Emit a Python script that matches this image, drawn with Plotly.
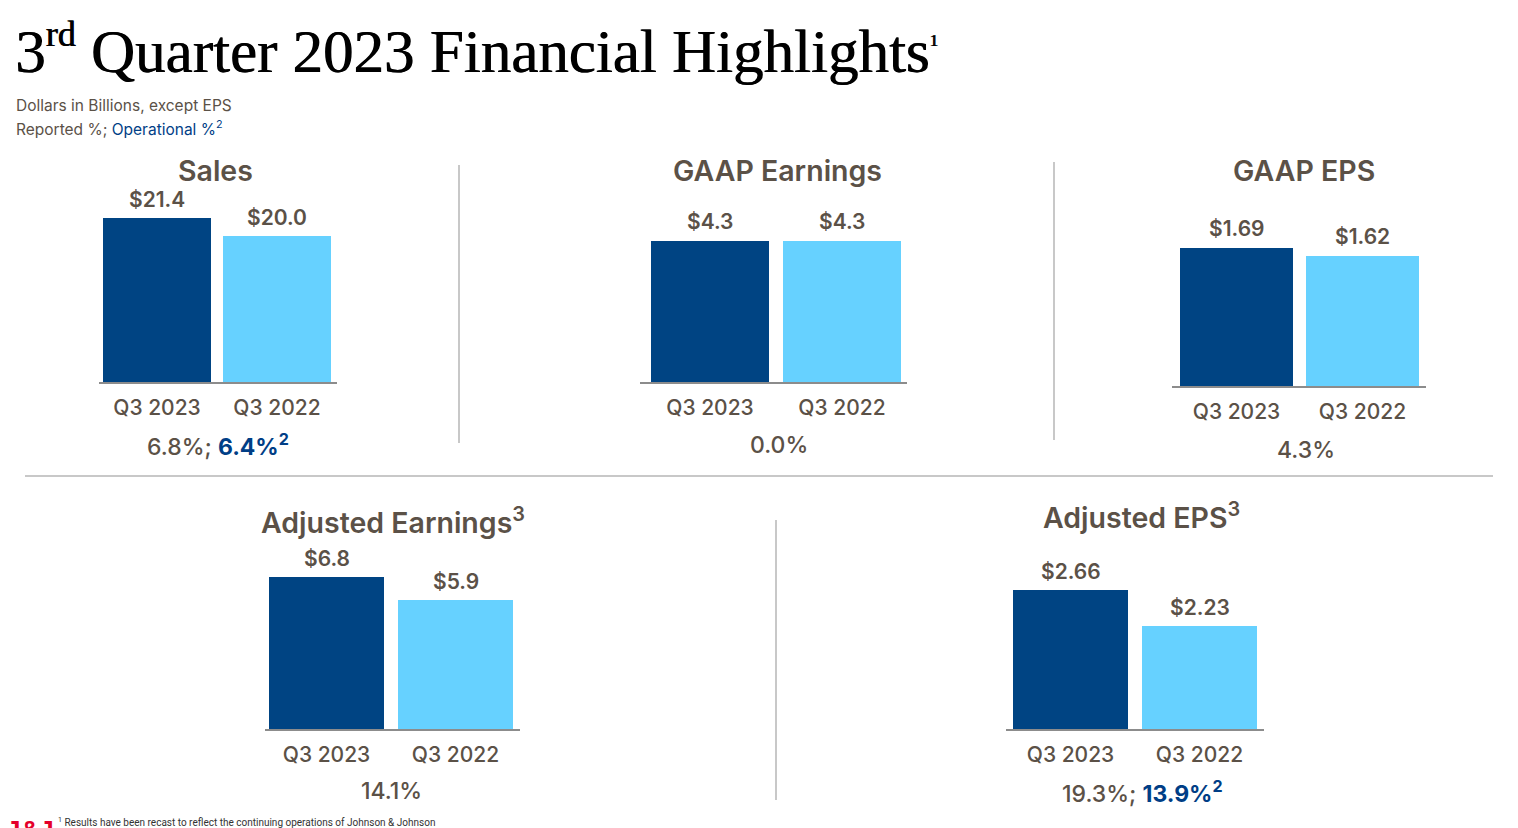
import plotly.graph_objects as go

W, H = 1518, 828

# ---------------- data ----------------
periods = ["Q3 2023", "Q3 2022"]
panel_titles = ["Sales", "GAAP Earnings", "GAAP EPS",
                "Adjusted Earnings<sup>3</sup>", "Adjusted EPS<sup>3</sup>"]
sales = [21.4, 20.0]
gaap_earnings = [4.3, 4.3]
gaap_eps = [1.69, 1.62]
adj_earnings = [6.8, 5.9]
adj_eps = [2.66, 2.23]
reported_pct = ["6.8%", "0.0%", "4.3%", "14.1%", "19.3%"]
operational_pct = ["6.4%", None, None, None, "13.9%"]
value_fmt = ["${:.1f}", "${:.1f}", "${:.2f}", "${:.1f}", "${:.2f}"]
series = [sales, gaap_earnings, gaap_eps, adj_earnings, adj_eps]

# ---------------- style / layout ----------------
DARK = "#004483"
LIGHT = "#66D1FF"
TXT = "#5B5147"
BLUE = "#003E86"
FONT = "Inter"

geo = [
    dict(x0=99, x1=337, c0=157, c1=277, bw=108, base=382, r0=8.64, ppu=12.85, title=(215, 170), pct=(218, 445)),
    dict(x0=640, x1=907, c0=710, c1=842, bw=118, base=382, r0=0.0, ppu=32.79, title=(777, 170), pct=(779, 445)),
    dict(x0=1172, x1=1426, c0=1236.5, c1=1362.5, bw=113, base=386, r0=0.4825, ppu=114.3, title=(1304, 170), pct=(1306, 450)),
    dict(x0=265, x1=520, c0=326.5, c1=455.5, bw=115, base=729, r0=0.852, ppu=25.55, title=(393, 521), pct=(391, 791)),
    dict(x0=1006, x1=1264, c0=1070.5, c1=1199.5, bw=115, base=729, r0=1.0, ppu=83.7, title=(1141, 516), pct=(1142, 792)),
]
PH = 220  # plot-area height in px


def px(x):
    return x / W


def py(y):
    return 1 - y / H


fig = go.Figure()
annotations = []
layout_axes = {}

for i, (g, vals) in enumerate(zip(geo, series)):
    n = "" if i == 0 else str(i + 1)
    unit = g["c1"] - g["c0"]
    xr = [(g["x0"] - g["c0"]) / unit, 1 + (g["x1"] - g["c1"]) / unit]
    yr = [g["r0"], g["r0"] + PH / g["ppu"]]
    fig.add_trace(go.Bar(
        x=[0, 1], y=vals, width=g["bw"] / unit,
        marker=dict(color=[DARK, LIGHT], line=dict(width=0)),
        xaxis="x" + n, yaxis="y" + n, showlegend=False, hoverinfo="skip",
    ))
    layout_axes["xaxis" + n] = dict(
        domain=[px(g["x0"]), px(g["x1"])], range=xr, anchor="y" + n,
        showline=True, linecolor="#8C8C8C", linewidth=1.5, showgrid=False, zeroline=False,
        tickvals=[0, 1], ticktext=periods, ticks="", ticklabelstandoff=6,
        tickfont=dict(family=FONT, size=21, color=TXT, weight=500), fixedrange=True,
    )
    layout_axes["yaxis" + n] = dict(
        domain=[py(g["base"]), py(g["base"] - PH)], range=yr, anchor="x" + n,
        visible=False, fixedrange=True,
    )
    for j, v in enumerate(vals):
        annotations.append(dict(
            x=j, y=v, xref="x" + n, yref="y" + n, text=value_fmt[i].format(v),
            showarrow=False, yanchor="middle", yshift=19,
            font=dict(family=FONT, size=21, color=TXT, weight=600),
        ))
    annotations.append(dict(
        x=px(g["title"][0]), y=py(g["title"][1]), xref="paper", yref="paper",
        text=panel_titles[i], showarrow=False, xanchor="center", yanchor="middle",
        font=dict(family=FONT, size=28.5, color=TXT, weight=600),
    ))
    pct = reported_pct[i]
    if operational_pct[i]:
        pct += "; <span style='color:" + BLUE + ";font-weight:700'>" + operational_pct[i] + "<sup>2</sup></span>"
    annotations.append(dict(
        x=px(g["pct"][0]), y=py(g["pct"][1]), xref="paper", yref="paper",
        text=pct, showarrow=False, xanchor="center", yanchor="middle",
        font=dict(family=FONT, size=23, color=TXT, weight=500),
    ))

annotations += [
    dict(x=px(13), y=py(49), xref="paper", yref="paper", xanchor="left", yanchor="middle",
         text="3<sup><span style='font-size:36px'>rd</span></sup> Quarter 2023 Financial Highlights"
              "<sup><span style='font-size:17px'>1</span></sup>",
         showarrow=False,
         font=dict(family="Liberation Serif", size=61, color="#000000",
                   shadow="0.8px 0px 0px #000000")),
    dict(x=px(14), y=py(105), xref="paper", yref="paper", xanchor="left", yanchor="middle",
         text="Dollars in Billions, except EPS", showarrow=False,
         font=dict(family=FONT, size=15.5, color=TXT)),
    dict(x=px(14), y=py(128), xref="paper", yref="paper", xanchor="left", yanchor="middle",
         text="Reported %; <span style='color:" + BLUE + "'>Operational %<sup>2</sup></span>", showarrow=False,
         font=dict(family=FONT, size=15.5, color=TXT)),
    dict(x=px(56), y=py(822), xref="paper", yref="paper", xanchor="left", yanchor="middle",
         text="<sup>1</sup> Results have been recast to reflect the continuing operations of Johnson &amp; Johnson",
         showarrow=False, font=dict(family="Liberation Sans Narrow, Roboto", size=10, color="#333333")),
    dict(x=px(4), y=py(813), xref="paper", yref="paper", xanchor="left", yanchor="top",
         text="<b>J&amp;J</b>", showarrow=False,
         font=dict(family="Liberation Sans", size=26, color="#E4002B")),
]

shapes = [
    dict(type="line", xref="paper", yref="paper", x0=px(459), x1=px(459), y0=py(165), y1=py(443),
         line=dict(color="#C8C8C8", width=2)),
    dict(type="line", xref="paper", yref="paper", x0=px(1054), x1=px(1054), y0=py(162), y1=py(440),
         line=dict(color="#C8C8C8", width=2)),
    dict(type="line", xref="paper", yref="paper", x0=px(25), x1=px(1493), y0=py(476), y1=py(476),
         line=dict(color="#C8C8C8", width=2)),
    dict(type="line", xref="paper", yref="paper", x0=px(776), x1=px(776), y0=py(520), y1=py(800),
         line=dict(color="#C8C8C8", width=2)),
]

fig.update_layout(
    width=W, height=H, margin=dict(l=0, r=0, t=0, b=0),
    paper_bgcolor="white", plot_bgcolor="white",
    annotations=annotations, shapes=shapes, bargap=0,
    **layout_axes,
)

fig.write_html("out.html", config={"displayModeBar": False},
               post_script="document.body.style.margin='0';document.body.style.overflow='hidden';")
